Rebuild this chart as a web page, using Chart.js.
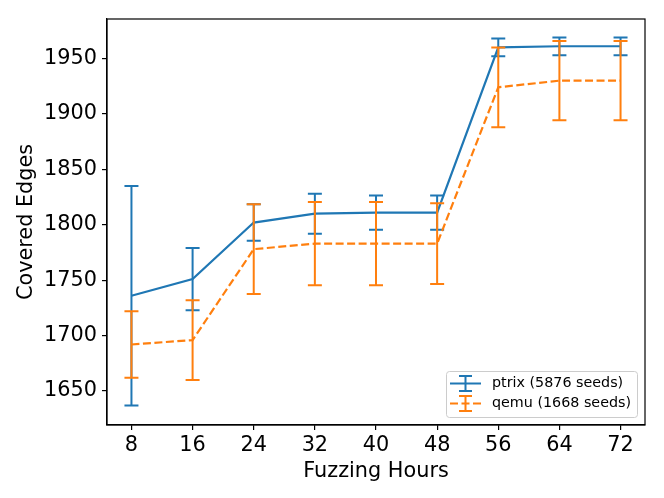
<!DOCTYPE html>
<html>
<head>
<meta charset="utf-8">
<script src="https://cdn.jsdelivr.net/npm/chart.js@4.4.1/dist/chart.umd.min.js"></script>
<style>
html,body{margin:0;padding:0;background:#fff;}
#wrap{width:664px;height:498px;}
</style>
</head>
<body>
<div id="wrap"><canvas id="c" width="664" height="498"></canvas></div>
<script>
const hours = [8, 16, 24, 32, 40, 48, 56, 64, 72];
const ptrixMean = [1736, 1751, 1802, 1810, 1811, 1811, 1960, 1961, 1961];
const ptrixErr  = [99, 28, 16.5, 18, 15.5, 15.5, 8, 8, 8];
const qemuMean  = [1692, 1696, 1778, 1783, 1783, 1783, 1924, 1930, 1930];
const qemuErr   = [30, 36, 40.5, 37.5, 37.5, 36.5, 36, 35.7, 35.7];
const xTicks = [8, 16, 24, 32, 40, 48, 56, 64, 72];
const yTicks = [1650, 1700, 1750, 1800, 1850, 1900, 1950];
const labels = ['ptrix (5876 seeds)', 'qemu (1668 seeds)'];

const BLUE = '#1f77b4', ORANGE = '#ff7f0e';
const FONT = "'DejaVu Sans', sans-serif";

const errSets = [ptrixErr, qemuErr];

const errorBarPlugin = {
  id: 'errbars',
  afterDatasetDraw(chart, args) {
    const ctx = chart.ctx;
    const ds = chart.data.datasets[args.index];
    const errs = errSets[args.index];
    const xs = chart.scales.x, ys = chart.scales.y;
    const ca = chart.chartArea;
    ctx.save();
    ctx.beginPath();
    ctx.rect(ca.left, ca.top, ca.right - ca.left, ca.bottom - ca.top);
    ctx.clip();
    ctx.strokeStyle = ds.borderColor;
    ctx.lineWidth = 2;
    ctx.setLineDash([]);
    ds.data.forEach((p, i) => {
      const x = xs.getPixelForValue(p.x);
      const yt = ys.getPixelForValue(p.y + errs[i]);
      const yb = ys.getPixelForValue(p.y - errs[i]);
      ctx.beginPath();
      ctx.moveTo(x, yt); ctx.lineTo(x, yb);
      ctx.moveTo(x - 7, yt); ctx.lineTo(x + 7, yt);
      ctx.moveTo(x - 7, yb); ctx.lineTo(x + 7, yb);
      ctx.stroke();
    });
    ctx.restore();
  }
};

const framePlugin = {
  id: 'frame',
  afterDraw(chart) {
    const ctx = chart.ctx;
    const ca = chart.chartArea;
    ctx.save();
    ctx.strokeStyle = '#000';
    ctx.lineWidth = 1.2;
    ctx.strokeRect(ca.left, ca.top, ca.right - ca.left, ca.bottom - ca.top);
    // legend
    const bx = 446, by = 371, bw = 191, bh = 46;
    ctx.fillStyle = 'rgba(255,255,255,0.8)';
    ctx.strokeStyle = '#cccccc';
    ctx.lineWidth = 1;
    ctx.beginPath();
    ctx.roundRect(bx + 0.5, by + 0.5, bw, bh, 3);
    ctx.fill();
    ctx.stroke();
    const rows = [383.5, 403.5];
    chart.data.datasets.forEach((ds, i) => {
      const y = rows[i];
      ctx.strokeStyle = ds.borderColor;
      ctx.lineWidth = 2;
      ctx.setLineDash(ds.borderDash || []);
      ctx.beginPath();
      ctx.moveTo(450, y); ctx.lineTo(481, y);
      ctx.stroke();
      ctx.setLineDash([]);
      ctx.beginPath();
      ctx.moveTo(465.5, y - 7.5); ctx.lineTo(465.5, y + 7.5);
      ctx.moveTo(459, y - 7.5); ctx.lineTo(472, y - 7.5);
      ctx.moveTo(459, y + 7.5); ctx.lineTo(472, y + 7.5);
      ctx.stroke();
      ctx.fillStyle = '#000';
      ctx.font = "14.3px " + FONT;
      ctx.textBaseline = 'middle';
      ctx.textAlign = 'left';
      ctx.fillText(ds.label, 492, y);
    });
    ctx.restore();
  }
};

new Chart(document.getElementById('c'), {
  type: 'line',
  data: {
    datasets: [
      {
        label: labels[0],
        data: hours.map((h, i) => ({x: h, y: ptrixMean[i]})),
        borderColor: BLUE, backgroundColor: BLUE,
        borderWidth: 2.2, pointRadius: 0, tension: 0, order: 1
      },
      {
        label: labels[1],
        data: hours.map((h, i) => ({x: h, y: qemuMean[i]})),
        borderColor: ORANGE, backgroundColor: ORANGE,
        borderWidth: 2.2, borderDash: [8, 3.5], pointRadius: 0, tension: 0, order: 0
      }
    ]
  },
  options: {
    responsive: false,
    animation: false,
    devicePixelRatio: 1,
    layout: {padding: {left: 0, right: 19, top: 19, bottom: 0}},
    plugins: {legend: {display: false}, tooltip: {enabled: false}},
    scales: {
      x: {
        type: 'linear', min: 4.8, max: 75.2,
        afterBuildTicks: s => { s.ticks = xTicks.map(v => ({value: v})); },
        afterFit: s => { s.height = 73; },
        grid: {display: true, drawOnChartArea: false, drawTicks: true, tickLength: 5, color: '#000', lineWidth: 1.2},
        border: {display: true, color: '#000', width: 1.2},
        ticks: {color: '#000', font: {family: FONT, size: 20.8}, padding: 3, maxRotation: 0, autoSkip: false,
                callback: v => String(v)},
        title: {display: true, text: 'Fuzzing Hours', color: '#000', font: {family: FONT, size: 20.8}, padding: {top: 14, bottom: 14}}
      },
      y: {
        type: 'linear', min: 1619.4, max: 1985.6,
        afterBuildTicks: s => { s.ticks = yTicks.map(v => ({value: v})); },
        afterFit: s => { s.width = 107; },
        grid: {display: true, drawOnChartArea: false, drawTicks: true, tickLength: 5, color: '#000', lineWidth: 1.2},
        border: {display: true, color: '#000', width: 1.2},
        ticks: {color: '#000', font: {family: FONT, size: 20.8}, padding: 5, autoSkip: false,
                callback: v => String(v)},
        title: {display: true, text: 'Covered Edges', color: '#000', font: {family: FONT, size: 20.8}, padding: {top: 14, bottom: 14}}
      }
    }
  },
  plugins: [errorBarPlugin, framePlugin]
});
</script>
</body>
</html>
